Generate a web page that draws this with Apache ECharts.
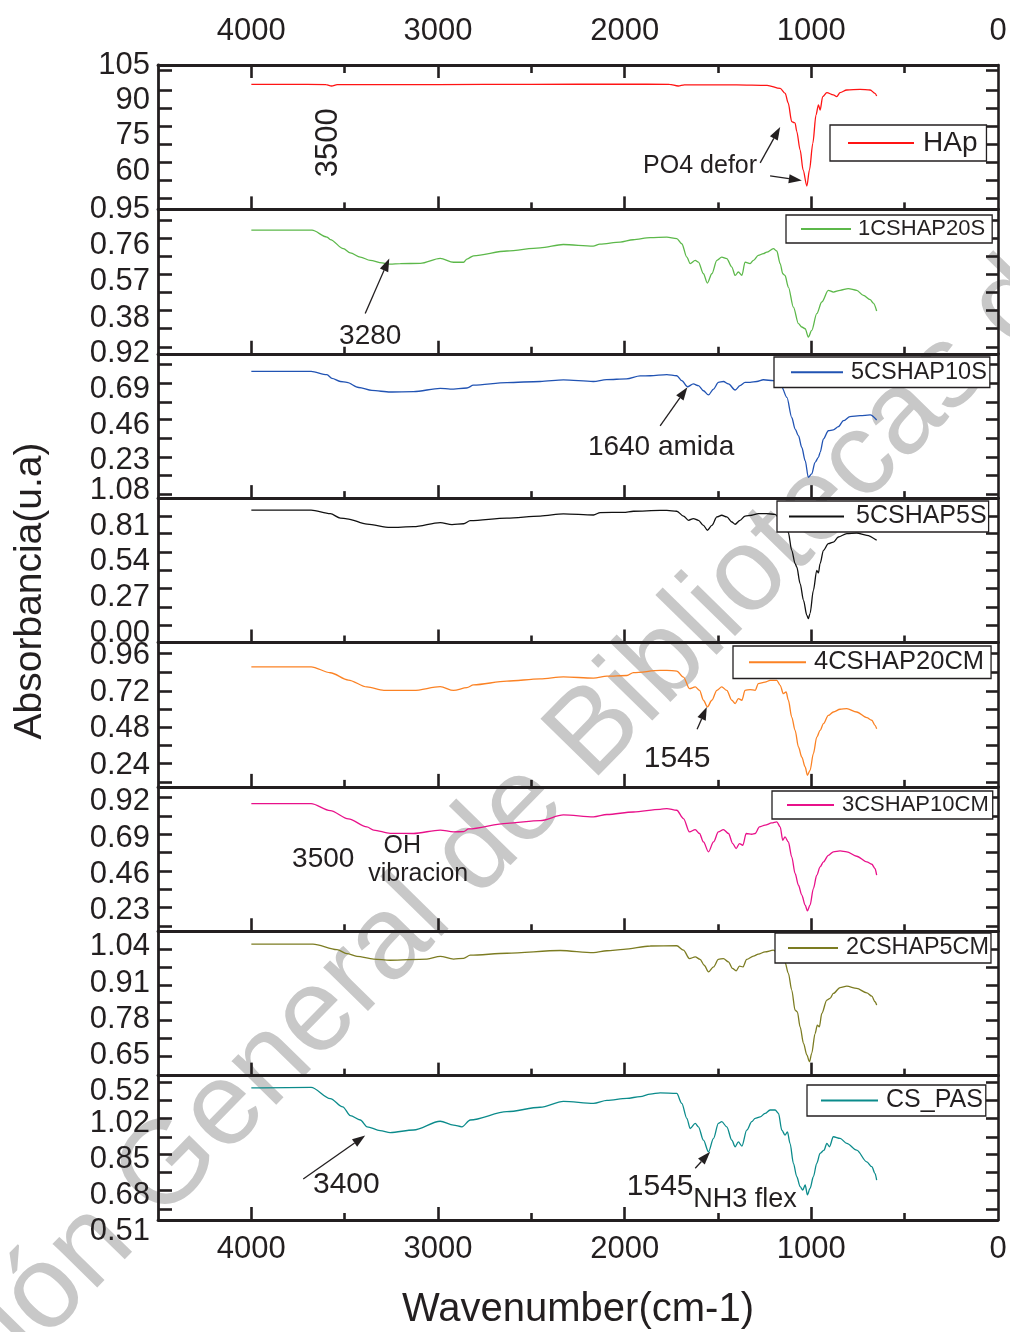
<!DOCTYPE html>
<html>
<head>
<meta charset="utf-8">
<script src="https://cdn.jsdelivr.net/npm/echarts@6/dist/echarts.min.js"></script>
<style>
html, body { margin: 0; padding: 0; background: #fff; }
#chart { width: 1010px; height: 1332px; }
</style>
</head>
<body>
<div id="chart"></div>
<script>
// FTIR spectra (absorbance vs wavenumber), one stacked panel per sample.

const sampleNames = ['HAp', '1CSHAP20S', '5CSHAP10S', '5CSHAP5S', '4CSHAP20CM', '3CSHAP10CM', '2CSHAP5CM', 'CS_PAS'];

// [wavenumber cm-1, absorbance]
const hap = [[4000,96.8],[3800,96.8],[3600,96.7],[3570,96.1],[3540,96.7],[3000,96.7],[2500,96.8],[2000,96.9],[1760,96.8],[1713,96.1],[1680,96.6],[1400,96.6],[1237,96.4],[1167,95.1],[1140,93.0],[1124,88.9],[1105,81.0],[1092,80.6],[1087,80.4],[1078,76.8],[1060,69.0],[1044,60.5],[1024,53.7],[1010,60.5],[992,71.8],[975,83.8],[962,88.1],[953,85.9],[939,91.6],[917,93.3],[882,92.3],[864,91.6],[846,93.3],[810,94.4],[739,94.7],[685,94.4],[659,93.0],[650,91.9]];

const cshap20s = [[4000,0.841],[3675,0.841],[3595,0.805],[3577,0.792],[3507,0.744],[3470,0.722],[3416,0.700],[3363,0.683],[3300,0.670],[3256,0.663],[3202,0.666],[3095,0.667],[2988,0.693],[2917,0.673],[2863,0.673],[2845,0.690],[2810,0.707],[2631,0.732],[2453,0.748],[2329,0.766],[2169,0.758],[2133,0.768],[2024,0.779],[1955,0.791],[1863,0.802],[1774,0.805],[1721,0.797],[1694,0.770],[1667,0.700],[1649,0.666],[1622,0.683],[1605,0.674],[1578,0.613],[1557,0.564],[1533,0.613],[1506,0.683],[1480,0.700],[1453,0.692],[1426,0.648],[1408,0.604],[1391,0.622],[1372,0.604],[1355,0.674],[1328,0.666],[1310,0.683],[1284,0.709],[1257,0.718],[1239,0.726],[1203,0.744],[1185,0.732],[1167,0.666],[1153,0.613],[1141,0.604],[1123,0.543],[1096,0.438],[1069,0.352],[1051,0.334],[1033,0.325],[1016,0.281],[998,0.316],[971,0.404],[944,0.465],[909,0.526],[882,0.517],[846,0.526],[802,0.535],[757,0.526],[721,0.500],[685,0.477],[668,0.459],[650,0.418]];

const cshap10s = [[4000,0.806],[3680,0.806],[3595,0.785],[3568,0.761],[3523,0.741],[3488,0.735],[3425,0.702],[3354,0.683],[3256,0.673],[3131,0.675],[2988,0.697],[2935,0.692],[2845,0.699],[2810,0.717],[2631,0.734],[2453,0.741],[2328,0.751],[2168,0.741],[2097,0.753],[1990,0.758],[1917,0.777],[1863,0.778],[1774,0.785],[1721,0.778],[1694,0.746],[1664,0.707],[1632,0.725],[1605,0.714],[1578,0.681],[1551,0.654],[1524,0.692],[1498,0.735],[1471,0.741],[1444,0.725],[1408,0.686],[1382,0.714],[1355,0.735],[1328,0.735],[1292,0.741],[1257,0.752],[1203,0.746],[1158,0.703],[1131,0.638],[1105,0.509],[1087,0.434],[1069,0.391],[1051,0.315],[1033,0.230],[1016,0.122],[998,0.144],[980,0.219],[962,0.251],[953,0.283],[935,0.370],[909,0.423],[882,0.428],[855,0.449],[828,0.488],[793,0.514],[739,0.520],[685,0.525],[650,0.492]];

const cshap5s = [[4000,0.931],[3680,0.931],[3577,0.904],[3523,0.871],[3488,0.865],[3380,0.825],[3256,0.800],[3131,0.806],[2988,0.837],[2925,0.822],[2863,0.828],[2827,0.851],[2631,0.871],[2453,0.886],[2328,0.902],[2167,0.894],[2131,0.912],[2006,0.914],[1953,0.922],[1810,0.928],[1774,0.929],[1721,0.922],[1685,0.886],[1658,0.854],[1632,0.867],[1605,0.854],[1578,0.816],[1557,0.779],[1533,0.816],[1506,0.879],[1480,0.892],[1453,0.879],[1426,0.841],[1408,0.824],[1382,0.854],[1355,0.886],[1319,0.892],[1284,0.904],[1239,0.904],[1194,0.899],[1167,0.860],[1150,0.820],[1124,0.766],[1105,0.628],[1087,0.528],[1078,0.502],[1060,0.377],[1042,0.251],[1024,0.138],[1016,0.113],[1007,0.151],[989,0.326],[971,0.477],[962,0.457],[953,0.528],[935,0.628],[909,0.678],[882,0.690],[855,0.728],[810,0.754],[757,0.758],[703,0.741],[650,0.703]];

const cshap20cm = [[4000,0.885],[3680,0.885],[3577,0.846],[3480,0.798],[3381,0.753],[3290,0.731],[3256,0.730],[3131,0.730],[2988,0.755],[2917,0.730],[2845,0.749],[2810,0.767],[2631,0.791],[2453,0.806],[2328,0.819],[2167,0.811],[2095,0.824],[1988,0.828],[1953,0.847],[1810,0.861],[1774,0.862],[1721,0.857],[1685,0.818],[1653,0.742],[1622,0.753],[1599,0.731],[1578,0.666],[1557,0.622],[1533,0.666],[1506,0.731],[1480,0.753],[1453,0.731],[1426,0.666],[1408,0.644],[1391,0.677],[1372,0.666],[1355,0.731],[1328,0.736],[1301,0.731],[1284,0.775],[1248,0.785],[1221,0.796],[1185,0.796],[1167,0.764],[1150,0.709],[1135,0.720],[1123,0.666],[1105,0.556],[1087,0.469],[1069,0.360],[1051,0.294],[1033,0.229],[1021,0.175],[1007,0.207],[989,0.317],[971,0.425],[953,0.469],[935,0.513],[909,0.567],[882,0.589],[846,0.607],[810,0.611],[757,0.589],[703,0.552],[676,0.535],[659,0.502],[650,0.480]];

const cshap10cm = [[4000,0.909],[3680,0.909],[3577,0.865],[3480,0.812],[3381,0.761],[3345,0.741],[3256,0.720],[3131,0.719],[2988,0.741],[2917,0.729],[2863,0.731],[2836,0.748],[2631,0.784],[2453,0.801],[2328,0.837],[2167,0.825],[2095,0.840],[1953,0.856],[1810,0.873],[1774,0.878],[1721,0.867],[1685,0.814],[1653,0.729],[1622,0.744],[1599,0.719],[1578,0.665],[1551,0.602],[1524,0.665],[1498,0.729],[1471,0.744],[1444,0.719],[1421,0.655],[1403,0.623],[1385,0.655],[1367,0.644],[1349,0.719],[1319,0.714],[1301,0.719],[1278,0.761],[1248,0.772],[1212,0.786],[1185,0.793],[1167,0.761],[1153,0.676],[1141,0.697],[1123,0.665],[1105,0.570],[1087,0.464],[1069,0.389],[1051,0.326],[1033,0.262],[1021,0.226],[1007,0.262],[989,0.368],[971,0.453],[953,0.506],[935,0.538],[909,0.580],[882,0.602],[846,0.608],[810,0.602],[757,0.574],[703,0.538],[676,0.523],[659,0.496],[650,0.453]];

const cshap5cm = [[4000,1.050],[3670,1.050],[3541,1.030],[3488,1.016],[3434,1.006],[3345,0.996],[3256,0.992],[3059,0.996],[2988,1.006],[2917,0.996],[2863,0.999],[2827,1.010],[2631,1.017],[2345,1.027],[2167,1.019],[2095,1.026],[2006,1.031],[1863,1.043],[1721,1.044],[1685,1.028],[1653,0.998],[1622,1.004],[1596,0.995],[1574,0.974],[1551,0.950],[1524,0.968],[1498,0.995],[1471,0.998],[1444,0.986],[1423,0.963],[1403,0.954],[1385,0.971],[1367,0.968],[1346,0.995],[1310,1.007],[1284,1.014],[1248,1.022],[1203,1.028],[1170,1.010],[1141,0.984],[1123,0.945],[1105,0.885],[1087,0.813],[1075,0.807],[1060,0.753],[1042,0.694],[1024,0.652],[1010,0.628],[998,0.658],[980,0.729],[968,0.759],[957,0.753],[944,0.801],[917,0.849],[900,0.855],[882,0.873],[846,0.894],[810,0.899],[757,0.891],[703,0.875],[676,0.863],[659,0.843],[650,0.831]];

const csPas = [[4000,1.187],[3680,1.190],[3577,1.137],[3510,1.098],[3470,1.057],[3416,1.036],[3380,1.004],[3310,0.986],[3256,0.977],[3131,0.989],[2988,1.030],[2917,1.012],[2872,1.004],[2827,1.036],[2631,1.075],[2453,1.096],[2328,1.124],[2167,1.114],[2095,1.128],[1988,1.138],[1917,1.146],[1863,1.158],[1810,1.164],[1721,1.161],[1694,1.114],[1667,1.044],[1649,0.996],[1622,1.020],[1605,1.004],[1578,0.941],[1551,0.886],[1524,0.949],[1498,1.020],[1480,1.028],[1453,1.004],[1426,0.941],[1408,0.910],[1391,0.933],[1372,0.913],[1346,0.988],[1319,1.028],[1301,1.044],[1274,1.051],[1248,1.067],[1221,1.083],[1194,1.083],[1176,1.067],[1158,0.988],[1141,0.965],[1128,0.980],[1114,0.926],[1096,0.832],[1078,0.769],[1060,0.722],[1046,0.706],[1033,0.730],[1021,0.683],[1007,0.714],[989,0.769],[971,0.832],[953,0.879],[932,0.894],[917,0.926],[903,0.910],[882,0.957],[846,0.949],[810,0.926],[757,0.894],[703,0.839],[676,0.816],[659,0.785],[650,0.753]];

const spectra = [hap, cshap20s, cshap10s, cshap5s, cshap20cm, cshap10cm, cshap5cm, csPas];

// Wavenumber axis labels and tick marks
const xTickLabels = [4000, 3000, 2000, 1000, 0];
const xMajorTicks = [1000, 2000, 3000, 4000];
const xMinorTicks = [500, 1500, 2500, 3500];

// Absorbance axis labels per panel
const yTickLabels = [
  [105, 90, 75, 60],
  [0.95, 0.76, 0.57, 0.38],
  [0.92, 0.69, 0.46, 0.23],
  [1.08, 0.81, 0.54, 0.27, 0.00],
  [0.96, 0.72, 0.48, 0.24],
  [0.92, 0.69, 0.46, 0.23],
  [1.04, 0.91, 0.78, 0.65, 0.52],
  [1.02, 0.85, 0.68, 0.51]
];
// Absorbance range shown in each panel [min, max]
const yRanges = [
  [43.8, 105], [0.194, 0.95], [-0.012, 0.92], [-0.067, 1.021],
  [0.099, 1.044], [0.096, 1.016], [0.578, 1.096], [0.565, 1.245]
];
// Tick marks along each panel's absorbance axis
const yTickMarks = [
  [102.6, 94.4, 86.8, 79.2, 71.5, 63.9, 56.3, 48.7],
  [0.892, 0.797, 0.704, 0.610, 0.517, 0.421, 0.325, 0.228],
  [0.855, 0.732, 0.610, 0.494, 0.372, 0.249, 0.133, 0.010],
  [0.886, 0.754, 0.615, 0.477, 0.339, 0.201, 0.063],
  [0.971, 0.847, 0.726, 0.606, 0.487, 0.369, 0.251, 0.131],
  [0.952, 0.831, 0.714, 0.598, 0.481, 0.364, 0.247, 0.130],
  [1.032, 0.966, 0.903, 0.840, 0.775, 0.712, 0.646],
  [1.216, 1.130, 1.044, 0.957, 0.876, 0.788, 0.703, 0.616]
];

// Band annotations: text placed at [wavenumber, absorbance] of its panel
const notes = [
  { panel: 0, text: '3500', at: [3588, 72.0], size: 31, vertical: true },
  { panel: 0, text: 'PO4 defor', at: [1596, 62.2], size: 25 },
  { panel: 1, text: '3280', at: [3363, 0.285], size: 28 },
  { panel: 2, text: '1640 amida', at: [1805, 0.314], size: 28 },
  { panel: 4, text: '1545', at: [1719, 0.286], size: 30 },
  { panel: 5, text: '3500', at: [3615, 0.555], size: 28 },
  { panel: 5, text: 'OH', at: [3191, 0.637], size: 25 },
  { panel: 5, text: 'vibracion', at: [3106, 0.459], size: 25 },
  { panel: 7, text: '3400', at: [3491, 0.730], size: 30 },
  { panel: 7, text: '1545', at: [1810, 0.720], size: 30 },
  { panel: 7, text: 'NH3 flex', at: [1355, 0.659], size: 27 }
];
const arrows = [
  { panel: 0, from: [1274, 63.5], to: [1167, 78.7] },
  { panel: 0, from: [1221, 58.0], to: [1051, 56.0] },
  { panel: 1, from: [3390, 0.405], to: [3261, 0.693] },
  { panel: 2, from: [1810, 0.455], to: [1664, 0.703] },
  { panel: 4, from: [1612, 0.476], to: [1560, 0.622] },
  { panel: 7, from: [3722, 0.758], to: [3390, 0.963] },
  { panel: 7, from: [1622, 0.809], to: [1542, 0.886] }
];

// ---- styling ----
const lineColors = ['#ff1414', '#5cb84a', '#2153b3', '#111111', '#fb8224', '#e8118a', '#7c7c22', '#0b8b8b'];
const ink = '#231f20';
const font = '"Liberation Sans", Arial, Helvetica, sans-serif';
const W = 1010;
const plotLeft = 158, plotRight = 998, plotTop = 65, plotBottom = 1220;
const panelH = (plotBottom - plotTop) / sampleNames.length;

// legend box per panel: left, top, paddings, line length, font size
const legendStyle = [
  { left: 830, top: 125, pad: [3, 9, 3, 17], itemWidth: 66, size: 28, gap: 4 },
  { left: 786, top: 215, pad: [2, 7, 2, 14], itemWidth: 50, size: 22, gap: 2 },
  { left: 774, top: 357, pad: [2.5, 3, 2.5, 16], itemWidth: 52, size: 23.5, gap: 3 },
  { left: 777, top: 501, pad: [2, 2, 2, 11], itemWidth: 55, size: 25, gap: 7 },
  { left: 733, top: 646, pad: [2.5, 7, 2.5, 15], itemWidth: 57, size: 25.5, gap: 3 },
  { left: 772, top: 791, pad: [2, 4, 2, 14], itemWidth: 47, size: 22, gap: 3 },
  { left: 775, top: 933, pad: [2.3, 2, 2.3, 12], itemWidth: 50, size: 23.4, gap: 3 },
  { left: 807, top: 1085, pad: [2, 3, 2, 13], itemWidth: 57, size: 25, gap: 3 }
];

const grids = [], xAxes = [], yAxes = [], series = [], legends = [];

function xAxisBase(i, position) {
  return {
    gridIndex: i, type: 'value', min: 0, max: 4500, inverse: true, position: position,
    splitLine: { show: false }
  };
}

function yLabelSetup(i) {
  const lo = yRanges[i][0], hi = yRanges[i][1];
  const pxPerUnit = panelH / (hi - lo);
  const rich = {};
  const items = yTickLabels[i].map((v, k) => {
    const pos = Math.min(hi, Math.max(lo, v));
    const shift = (pos - v) * pxPerUnit;   // positive pushes the text downwards
    const text = i === 0 ? String(v) : v.toFixed(2);
    let key = null;
    if (Math.abs(shift) > 0.5) {
      key = 's' + k;
      rich[key] = {
        fontSize: 31, fontFamily: font, color: ink,
        padding: shift > 0 ? [2 * shift, 0, 0, 0] : [0, 0, -2 * shift, 0]
      };
    }
    return { pos, text, key };
  });
  return {
    show: true, margin: 8, fontSize: 31, fontFamily: font, color: ink,
    showMinLabel: true, showMaxLabel: true,
    customValues: items.map(d => d.pos),
    formatter: function (val) {
      let best = items[0];
      items.forEach(d => { if (Math.abs(d.pos - val) < Math.abs(best.pos - val)) best = d; });
      return best.key ? '{' + best.key + '|' + best.text + '}' : best.text;
    },
    rich: rich
  };
}

sampleNames.forEach((name, i) => {
  grids.push({ left: plotLeft, right: W - plotRight, top: plotTop + i * panelH, height: panelH, show: false });

  // bottom edge: frame line + major ticks (+ labels on the last panel)
  const xMain = xAxes.length;
  xAxes.push(Object.assign(xAxisBase(i, 'bottom'), {
    axisLine: { show: true, onZero: false, lineStyle: { color: ink, width: 2.8 } },
    axisTick: { show: true, inside: true, length: 13, customValues: xMajorTicks, lineStyle: { color: ink, width: 2.6 } },
    axisLabel: {
      show: i === sampleNames.length - 1, customValues: xTickLabels, margin: 14,
      fontSize: 31, fontFamily: font, color: ink, formatter: v => String(v),
      showMinLabel: true, showMaxLabel: true
    },
    name: i === sampleNames.length - 1 ? 'Wavenumber(cm-1)' : '',
    nameLocation: 'middle', nameGap: 70,
    nameTextStyle: { fontSize: 40, fontFamily: font, color: ink }
  }));
  // bottom edge: minor ticks
  xAxes.push(Object.assign(xAxisBase(i, 'bottom'), {
    axisLine: { show: false, onZero: false },
    axisTick: { show: true, inside: true, length: 7, customValues: xMinorTicks, lineStyle: { color: ink, width: 2.6 } },
    axisLabel: { show: false }
  }));
  if (i === 0) {
    // top frame line with labels
    xAxes.push(Object.assign(xAxisBase(i, 'top'), {
      axisLine: { show: true, onZero: false, lineStyle: { color: ink, width: 2.8 } },
      axisTick: { show: true, inside: true, length: 13, customValues: xMajorTicks, lineStyle: { color: ink, width: 2.6 } },
      axisLabel: {
        show: true, customValues: xTickLabels, margin: 18,
        fontSize: 31, fontFamily: font, color: ink, formatter: v => String(v),
        showMinLabel: true, showMaxLabel: true
      }
    }));
    xAxes.push(Object.assign(xAxisBase(i, 'top'), {
      axisLine: { show: false, onZero: false },
      axisTick: { show: true, inside: true, length: 8, customValues: xMinorTicks, lineStyle: { color: ink, width: 2.6 } },
      axisLabel: { show: false }
    }));
  }

  const yLeft = yAxes.length;
  yAxes.push({
    gridIndex: i, type: 'value', position: 'left', min: yRanges[i][0], max: yRanges[i][1],
    axisLine: { show: true, onZero: false, lineStyle: { color: ink, width: 2.8 } },
    axisTick: { show: true, inside: true, length: 14, customValues: yTickMarks[i], lineStyle: { color: ink, width: 2.6 } },
    axisLabel: yLabelSetup(i),
    splitLine: { show: false }
  });
  yAxes.push({
    gridIndex: i, type: 'value', position: 'right', min: yRanges[i][0], max: yRanges[i][1],
    axisLine: { show: true, onZero: false, lineStyle: { color: ink, width: 2.6 } },
    axisTick: { show: true, inside: true, length: 12, customValues: yTickMarks[i], lineStyle: { color: ink, width: 2.6 } },
    axisLabel: { show: false },
    splitLine: { show: false }
  });

  series.push({
    type: 'line', name: name, xAxisIndex: xMain, yAxisIndex: yLeft,
    data: spectra[i], symbol: 'none', showSymbol: false,
    smooth: 0.3, smoothMonotone: 'x',
    lineStyle: { color: lineColors[i], width: 1.3 },
    itemStyle: { color: lineColors[i] },
    clip: true, z: 2
  });

  const ls = legendStyle[i];
  legends.push({
    data: [name], left: ls.left, top: ls.top, orient: 'horizontal',
    padding: ls.pad, itemWidth: ls.itemWidth, itemHeight: 2,
    itemStyle: { opacity: 0 },
    backgroundColor: '#ffffff', borderColor: ink, borderWidth: 1.3, borderRadius: 0,
    selectedMode: false,
    textStyle: {
      fontSize: ls.size, fontFamily: font, color: ink, lineHeight: ls.size + 2,
      padding: [0, 0, 0, ls.gap]
    }
  });
});

const chart = echarts.init(document.getElementById('chart'), null, { renderer: 'canvas' });
chart.setOption({
  backgroundColor: '#ffffff',
  animation: false,
  grid: grids,
  xAxis: xAxes,
  yAxis: yAxes,
  legend: legends,
  series: series
});

// ---- annotations positioned through each panel's own axes ----
const graphics = [];
function toPx(panel, pt) {
  return chart.convertToPixel({ seriesIndex: panel }, pt);
}

// library stamp across the figure, underneath everything else
graphics.push({
  type: 'text', x: -230, y: 1575, rotation: 45.6 * Math.PI / 180, z: -5, silent: true,
  style: {
    text: 'Dirección General de Bibliotecas de la UAQ', fontSize: 118, fontFamily: font,
    fill: '#c8c8c8', textAlign: 'left', textVerticalAlign: 'middle', verticalAlign: 'middle'
  }
});

notes.forEach(n => {
  const p = toPx(n.panel, n.at);
  graphics.push({
    type: 'text', x: p[0], y: p[1], rotation: n.vertical ? Math.PI / 2 : 0, z: 20,
    style: {
      text: n.text, fontSize: n.size, fontFamily: font, fill: ink,
      textAlign: 'center', textVerticalAlign: 'middle', verticalAlign: 'middle'
    }
  });
});
arrows.forEach(a => {
  const s = toPx(a.panel, a.from), e = toPx(a.panel, a.to);
  const dx = e[0] - s[0], dy = e[1] - s[1];
  const len = Math.hypot(dx, dy);
  const ux = dx / len, uy = dy / len;
  const headL = 13, headW = 9;
  const bx = e[0] - ux * headL, by = e[1] - uy * headL;
  graphics.push({
    type: 'line', z: 20,
    shape: { x1: s[0], y1: s[1], x2: bx, y2: by },
    style: { stroke: ink, lineWidth: 1.3 }
  });
  graphics.push({
    type: 'polygon', z: 20,
    shape: { points: [[e[0], e[1]], [bx - uy * headW / 2, by + ux * headW / 2], [bx + uy * headW / 2, by - ux * headW / 2]] },
    style: { fill: ink }
  });
});

// axis title for absorbance, shared by all panels
graphics.push({
  type: 'text', x: 30, y: 591, rotation: Math.PI / 2, z: 20,
  style: {
    text: 'Absorbancia(u.a)', fontSize: 39, fontFamily: font, fill: ink,
    textAlign: 'center', textVerticalAlign: 'middle', verticalAlign: 'middle'
  }
});

chart.setOption({ graphic: graphics });
</script>
</body>
</html>
